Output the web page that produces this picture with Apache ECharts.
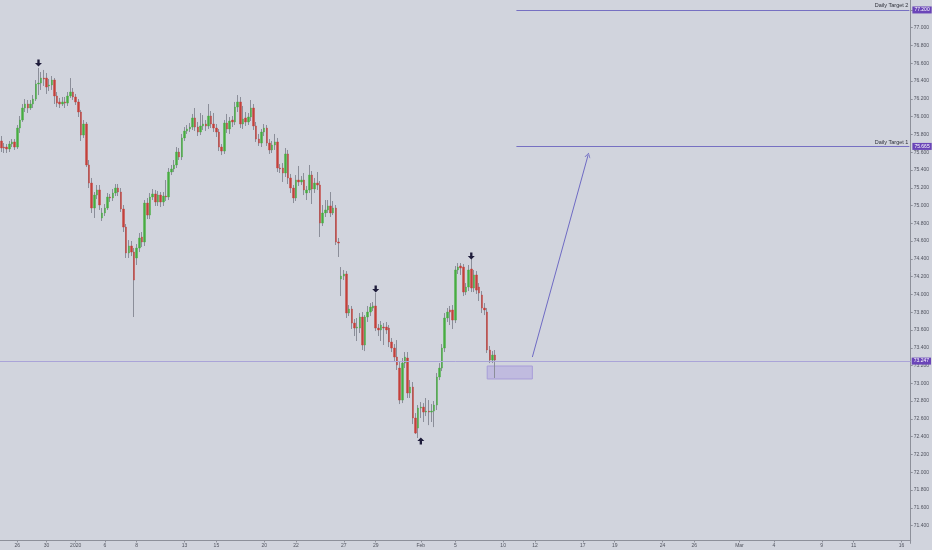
<!DOCTYPE html>
<html><head><meta charset="utf-8">
<script src="https://cdn.jsdelivr.net/npm/echarts@6/dist/echarts.min.js"></script>
<style>html,body{margin:0;padding:0;background:#d1d4dd}#c{width:932px;height:550px}</style>
</head><body><div id="c"></div>
<script>
// ---- candle data (4h bars) ----
const opens = [
75.726,75.658,75.658,75.636,75.692,75.715,75.658,75.872,75.962,76.097,
76.142,76.097,76.142,76.198,76.367,76.378,76.434,76.434,76.345,76.356,
76.412,76.232,76.165,76.142,76.165,76.153,76.232,76.277,76.221,76.165,
76.052,75.793,75.917,75.456,75.253,74.972,75.118,75.175,74.860,74.916,
74.972,75.096,75.085,75.141,75.197,75.152,74.961,74.758,74.466,74.545,
74.477,74.410,74.522,74.646,74.590,75.028,74.893,75.096,75.130,75.040,
75.118,75.040,75.107,75.096,75.377,75.411,75.456,75.602,75.546,75.760,
75.838,75.861,75.883,75.985,75.883,75.827,75.895,75.917,75.895,76.007,
75.917,75.872,75.827,75.658,75.613,75.928,75.861,75.962,75.940,76.108,
76.165,75.917,75.985,75.940,75.996,76.097,75.895,75.748,75.703,75.827,
75.872,75.703,75.625,75.681,75.715,75.422,75.422,75.366,75.580,75.310,
75.197,75.085,75.287,75.265,75.287,75.141,75.175,75.343,75.186,75.253,
75.231,74.803,74.916,74.950,74.995,74.916,74.972,74.590,74.174,74.207,
74.230,73.791,73.836,73.678,73.622,73.622,73.746,73.431,73.746,73.802,
73.847,73.870,73.622,73.600,73.633,73.633,73.622,73.465,73.397,73.296,
73.172,72.812,73.228,73.285,72.891,72.958,72.610,72.497,72.722,72.733,
72.677,72.688,72.677,72.688,72.756,73.071,73.172,73.397,73.735,73.825,
73.825,73.712,74.275,74.320,74.308,74.027,74.083,74.286,74.072,74.219,
74.083,73.993,73.847,73.802,73.375,73.262,73.318];
const closes = [
75.647,75.647,75.636,75.692,75.715,75.658,75.872,75.962,76.097,76.142,
76.097,76.142,76.198,76.367,76.378,76.434,76.423,76.333,76.356,76.412,
76.232,76.153,76.142,76.165,76.153,76.232,76.277,76.221,76.165,76.052,
75.793,75.917,75.456,75.253,74.972,75.118,75.175,75.006,74.916,74.972,
75.096,75.085,75.141,75.197,75.152,74.961,74.758,74.466,74.545,74.477,
74.162,74.522,74.635,74.590,75.028,74.893,75.096,75.130,75.040,75.118,
75.040,75.107,75.096,75.377,75.411,75.456,75.602,75.546,75.760,75.838,
75.861,75.883,75.985,75.883,75.827,75.895,75.917,75.895,76.007,75.917,
75.872,75.827,75.658,75.613,75.928,75.861,75.951,75.940,76.108,76.165,
75.917,75.973,75.940,75.996,76.097,75.895,75.748,75.703,75.827,75.872,
75.703,75.625,75.681,75.715,75.422,75.411,75.366,75.580,75.310,75.197,
75.085,75.287,75.265,75.287,75.175,75.175,75.343,75.186,75.253,75.231,
74.803,74.916,74.950,74.995,74.916,74.972,74.590,74.578,74.207,74.230,
73.791,73.836,73.678,73.622,73.633,73.746,73.431,73.746,73.802,73.858,
73.870,73.622,73.600,73.656,73.622,73.600,73.465,73.397,73.296,73.206,
72.812,73.228,73.296,72.891,72.958,72.610,72.441,72.722,72.733,72.677,
72.688,72.677,72.688,72.756,73.071,73.172,73.397,73.735,73.802,73.802,
73.712,74.275,74.308,74.297,74.027,74.083,74.275,74.072,74.219,74.049,
74.016,73.847,73.825,73.375,73.262,73.318,73.262];
const lows = [
75.602,75.591,75.591,75.602,75.658,75.625,75.636,75.816,75.940,76.052,
76.041,76.075,76.097,76.176,76.243,76.300,76.345,76.255,76.288,76.300,
76.142,76.108,76.097,76.120,76.097,76.120,76.210,76.187,76.131,75.996,
75.726,75.760,75.433,75.197,74.916,74.860,75.073,74.950,74.826,74.882,
74.950,75.040,75.051,75.107,75.107,74.927,74.702,74.410,74.410,74.432,
73.746,74.331,74.477,74.533,74.545,74.848,74.848,75.062,74.995,74.995,
74.983,74.995,75.051,75.062,75.343,75.377,75.422,75.512,75.512,75.726,
75.805,75.827,75.850,75.838,75.782,75.793,75.850,75.838,75.861,75.872,
75.827,75.771,75.613,75.568,75.580,75.816,75.805,75.883,75.906,76.052,
75.872,75.861,75.895,75.906,75.951,75.850,75.715,75.670,75.658,75.782,
75.670,75.580,75.591,75.625,75.377,75.366,75.265,75.321,75.242,75.141,
75.028,75.051,75.220,75.231,75.118,75.062,75.141,75.017,75.141,75.175,
74.646,74.770,74.871,74.916,74.871,74.893,74.556,74.421,73.982,74.162,
73.735,73.757,73.611,73.532,73.476,73.566,73.375,73.363,73.690,73.757,
73.813,73.588,73.532,73.476,73.431,73.555,73.408,73.352,73.251,73.150,
72.767,72.778,73.172,72.835,72.835,72.542,72.430,72.385,72.610,72.565,
72.632,72.530,72.565,72.508,72.700,73.037,73.138,73.352,73.690,73.656,
73.611,73.678,74.230,74.219,73.982,73.993,74.038,74.027,74.027,74.005,
73.926,73.791,73.768,73.341,73.228,73.228,73.060];
const highs = [
75.782,75.703,75.692,75.726,75.748,75.748,75.906,76.007,76.142,76.198,
76.187,76.187,76.243,76.412,76.547,76.502,76.525,76.491,76.423,76.457,
76.434,76.277,76.210,76.221,76.221,76.277,76.434,76.322,76.255,76.198,
76.075,75.962,75.940,75.512,75.310,75.152,75.231,75.231,74.972,75.017,
75.141,75.130,75.186,75.242,75.242,75.197,75.006,74.792,74.612,74.601,
74.522,74.567,74.691,74.702,75.062,75.085,75.141,75.186,75.175,75.163,
75.152,75.152,75.287,75.422,75.456,75.512,75.658,75.647,75.805,75.883,
75.906,75.928,76.030,76.097,75.940,76.041,76.018,75.962,76.142,76.063,
76.041,75.917,75.861,75.692,75.962,76.030,75.996,76.007,76.165,76.243,
76.221,76.120,76.052,76.041,76.187,76.142,75.940,75.805,75.861,75.917,
75.906,75.748,75.726,75.805,75.760,75.467,75.478,75.647,75.625,75.355,
75.231,75.343,75.445,75.332,75.366,75.220,75.456,75.388,75.310,75.377,
75.276,75.006,75.062,75.062,75.152,75.051,75.006,74.635,74.308,74.275,
74.263,73.881,73.870,73.723,73.735,73.791,73.802,73.768,73.870,73.903,
73.915,74.016,73.667,73.701,73.678,73.690,73.656,73.510,73.442,73.487,
73.240,73.285,73.352,73.352,73.037,73.015,72.666,72.756,72.790,72.778,
72.835,72.812,72.767,72.801,73.116,73.228,73.442,73.791,73.847,73.870,
73.881,74.320,74.353,74.353,74.342,74.128,74.331,74.398,74.275,74.263,
74.128,74.038,73.903,73.847,73.420,73.363,73.375];

// time slots (4h bars incl. future area) and date tick labels
const slotCount = 343;
const tickIdx  = [6,17,28,39,51,69,81,99,111,129,141,158,171,189,201,219,231,249,261,278,291,309,321,339];
const tickText = ['26','30','2020','6','8','13','15','20','22','27','29','Feb','5','10','12','17','19','24','26','Mar','4','9','11','16'];

// price scale extent
const priceMin = 71.2;
const priceMax = 77.312;

// annotations
const targetNames  = ['Daily Target 2','Daily Target 1'];
const targetPrices = [77.200, 75.665];
const targetStart  = 194;
const lastPrice    = 73.247;
const zoneX = [183, 200];
const zoneY = [73.049, 73.195];
const projFrom = [200, 73.296];
const projTo   = [221, 75.568];
const downIdx = [14, 141, 177];
const downPrice = [76.603, 74.061, 74.432];
const upIdx = [158];
const upPrice = [72.351];

// ---- build ----
const cats = [];
for (let i = 0; i < slotCount; i++) cats.push(String(i));
const tickMap = {};
tickIdx.forEach((k, j) => tickMap[k] = tickText[j]);

const wickData = opens.map((o, i) => [o, closes[i], lows[i], highs[i]]);
const bodyData = opens.map((o, i) => [o, closes[i], Math.min(o, closes[i]), Math.max(o, closes[i])]);

const PURPLE = '#6a45b8';
const FONT = 'Liberation Sans';
const boxLabel = (txt, dist) => ({
  show: true, position: 'end', formatter: txt, distance: dist,
  backgroundColor: PURPLE, color: '#ffffff', fontSize: 5, padding: [1, 2, 1, 2],
  fontFamily: FONT
});

const lines = [];
targetPrices.forEach((p, j) => {
  lines.push([
    {coord: [targetStart, p], symbol: 'none',
     lineStyle: {color: '#7670c2', width: 1, type: 'solid'},
     label: {show: true, position: 'insideEndTop', formatter: targetNames[j],
             color: '#2e3039', fontSize: 5.5, distance: 1, fontFamily: FONT}},
    {coord: [slotCount - 1, p], symbol: 'none'}
  ]);
  lines.push([
    {coord: [targetStart, p], symbol: 'none', lineStyle: {color: 'rgba(0,0,0,0)', width: 1, type: 'solid'},
     label: boxLabel(p.toFixed(3), 3)},
    {coord: [slotCount - 1, p], symbol: 'none'}
  ]);
});
lines.push({yAxis: lastPrice, symbol: 'none', lineStyle: {color: '#aaa4d8', width: 1, type: 'solid'},
            label: boxLabel(lastPrice.toFixed(3), 1)});
lines.push([
  {coord: projFrom, symbol: 'none', lineStyle: {color: '#6f6bc4', width: 1, type: 'solid'}, label: {show: false}},
  {coord: projTo, symbol: 'path://M0,10 L5,0 L10,10 L8.6,10 L5,2.8 L1.4,10 Z', symbolSize: [6, 5]}
]);

const downPath = 'path://M3,0 L6,0 L6,5 L9,5 L4.5,10 L0,5 L3,5 Z';
const upPath = 'path://M3,10 L6,10 L6,5 L9,5 L4.5,0 L0,5 L3,5 Z';
const points = [];
downIdx.forEach((k, j) => points.push({coord: [k, downPrice[j]], symbol: downPath, symbolSize: [7, 7]}));
upIdx.forEach((k, j) => points.push({coord: [k, upPrice[j]], symbol: upPath, symbolSize: [7, 7]}));

const chart = echarts.init(document.getElementById('c'), null, {renderer: 'canvas'});
chart.setOption({
  animation: false,
  backgroundColor: '#d1d4dd',
  textStyle: {fontFamily: FONT},
  grid: {left: 0, right: 18, top: 0, bottom: 6.64, containLabel: false},
  xAxis: {
    type: 'category', data: cats, boundaryGap: true, offset: -3,
    axisLine: {show: true, lineStyle: {color: '#8d909a', width: 1}},
    axisTick: {show: true, alignWithLabel: true, length: 2,
               interval: (i) => tickMap[i] !== undefined, lineStyle: {color: '#8d909a'}},
    axisLabel: {show: true, interval: (i) => tickMap[i] !== undefined,
                formatter: (v, i) => tickMap[i] || '', color: '#50535e', fontSize: 5, margin: 3},
    splitLine: {show: false}
  },
  yAxis: {
    type: 'value', position: 'right', min: priceMin, max: priceMax, interval: 0.2, scale: true,
    axisLine: {show: true, lineStyle: {color: '#8d909a', width: 1}},
    axisTick: {show: true, length: 2, lineStyle: {color: '#8d909a'}},
    axisLabel: {show: true, formatter: (v) => v.toFixed(3), color: '#50535e', fontSize: 5, margin: 3,
                showMinLabel: false, showMaxLabel: false},
    splitLine: {show: false}
  },
  series: [
    {
      type: 'candlestick', name: 'wick', data: wickData, barWidth: 1,
      itemStyle: {color: 'rgba(0,0,0,0)', color0: 'rgba(0,0,0,0)',
                  borderColor: '#8b8e99', borderColor0: '#8b8e99', borderWidth: 1},
      z: 2
    },
    {
      type: 'candlestick', name: 'body', data: bodyData, barWidth: 2,
      itemStyle: {color: '#46ad40', color0: '#c4403a', borderColor: '#46ad40', borderColor0: '#c4403a', borderWidth: 0.4},
      z: 3,
      markLine: {silent: true, symbol: 'none', animation: false, lineStyle: {type: 'solid'}, data: lines},
      markArea: {silent: true, data: [[
        {coord: [zoneX[0], zoneY[1]], itemStyle: {color: 'rgba(160,140,225,0.35)', borderColor: '#a89dd8', borderWidth: 1}},
        {coord: [zoneX[1], zoneY[0]]}
      ]]},
      markPoint: {silent: true, label: {show: false}, itemStyle: {color: '#1e1c3a'}, data: points}
    }
  ]
});
</script></body></html>
